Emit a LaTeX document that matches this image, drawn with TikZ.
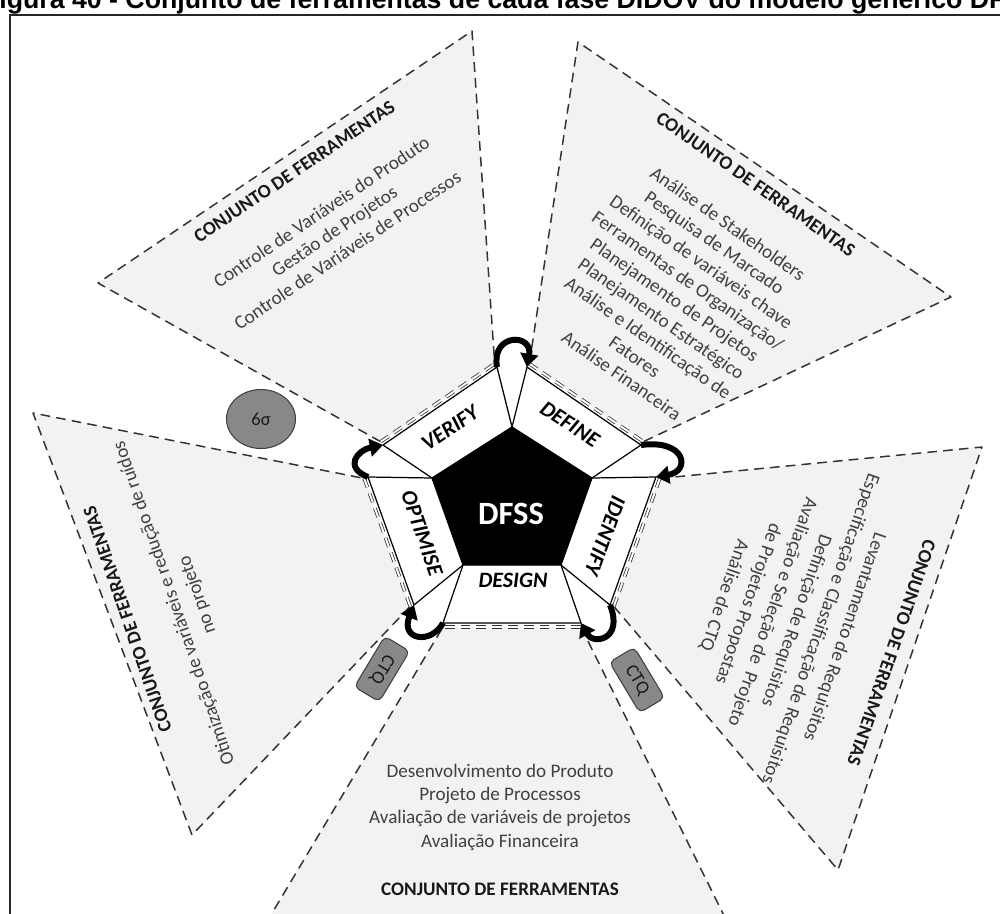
\documentclass[tikz,border=0pt]{standalone}
\usepackage{fontspec}
\setmainfont{Carlito}
\newfontfamily\headfont{Liberation Sans}
\usetikzlibrary{arrows.meta,shapes.geometric}

\newcommand{\toolhead}{{\bfseries\color{black!90}CONJUNTO DE FERRAMENTAS}}

\begin{document}
\begin{tikzpicture}[x=0.02cm, y=-0.02cm,
    fanline/.style={draw=black!80, line width=0.85pt, dash pattern=on 5.5pt off 3.5pt, line join=round},
    fanedge/.style={draw=black!80, line width=0.45pt, double=white, double distance=1.1pt, dash pattern=on 5.5pt off 3.5pt},
    phase/.style={fill=white, draw=black, line width=0.7pt},
    phaselabel/.style={font=\fontsize{12.5pt}{14pt}\selectfont\bfseries\itshape, inner sep=0pt},
    tools/.style={align=center, text=black!75, inner sep=0pt, font=\fontsize{10.9pt}{13.2pt}\selectfont},
    turn/.style={draw=black, line width=3.4pt, -{Triangle[length=7.5pt,width=10pt]}},
    badge/.style={fill=badgegray, draw=black!75, line width=0.6pt, font=\fontsize{10.5pt}{12pt}\selectfont, text=black!90}]

  % Colours
  \definecolor{fangray}{RGB}{242,242,242}
  \definecolor{badgegray}{RGB}{136,136,136}

  \useasboundingbox (0,0) rectangle (1000,913);

  % Caption line and frame
  \node[anchor=base west, inner sep=0pt, font=\fontsize{15.2pt}{18pt}\headfont\bfseries] (title) at (-1,8)
    {igura 40 - Conjunto de ferramentas de cada fase DIDOV do modelo genérico DF};
  \draw[line width=1.1pt, black!85] (10,1000) -- (10,15) -- (1010,15);

  % Pentagon corners
  \coordinate (p1) at (512,427);
  \coordinate (p2) at (592,478);
  \coordinate (p3) at (561,565);
  \coordinate (p4) at (463,565);
  \coordinate (p5) at (432,478);

  % Outer corners of the phase blocks
  \coordinate (v1) at (383,445); \coordinate (v2) at (497,367);
  \coordinate (d1) at (527,367); \coordinate (d2) at (641,445);
  \coordinate (i1) at (656,477); \coordinate (i2) at (610,605);
  \coordinate (g1) at (581,623); \coordinate (g2) at (443,623);
  \coordinate (o1) at (414,605); \coordinate (o2) at (368,477);

  % Tool fans (fill, outer dashed sides, double dashed inner side)
  % verify fan
  \fill[fangray] (380.7,441.7) -- (98,283) -- (472,31) -- (494.7,363.7) -- cycle;
  \draw[fanline] (380.7,441.7) -- (98,283) -- (472,31) -- (494.7,363.7);
  \draw[fanedge] (380.7,441.7) -- (494.7,363.7);
  % define fan
  \fill[fangray] (529.3,363.7) -- (578,42) -- (951,297) -- (643.3,441.7) -- cycle;
  \draw[fanline] (529.3,363.7) -- (578,42) -- (951,297) -- (643.3,441.7);
  \draw[fanedge] (529.3,363.7) -- (643.3,441.7);
  % identify fan
  \fill[fangray] (659.8,478.4) -- (982,447) -- (838,870) -- (613.8,606.4) -- cycle;
  \draw[fanline] (659.8,478.4) -- (982,447) -- (838,870) -- (613.8,606.4);
  \draw[fanedge] (659.8,478.4) -- (613.8,606.4);
  % design fan
  \fill[fangray] (581,627) -- (746,960) -- (244,960) -- (443,627) -- cycle;
  \draw[fanline] (581,627) -- (746,960) -- (244,960) -- (443,627);
  \draw[fanedge] (581,627) -- (443,627);
  % optimise fan
  \fill[fangray] (410.2,606.4) -- (192,835) -- (33,413) -- (364.2,478.4) -- cycle;
  \draw[fanline] (410.2,606.4) -- (192,835) -- (33,413) -- (364.2,478.4);
  \draw[fanedge] (410.2,606.4) -- (364.2,478.4);

  % Phase blocks around the core
  \foreach \a/\b/\c/\d in {p5/p1/v2/v1, p1/p2/d2/d1, p2/p3/i2/i1, p3/p4/g2/g1, p4/p5/o2/o1} {
      \draw[phase] (\a) -- (\b) -- (\c) -- (\d) -- cycle;
  }
  \fill[black] (p1) -- (p2) -- (p3) -- (p4) -- (p5) -- cycle;
  \node[text=white, font=\fontsize{18.5pt}{20pt}\selectfont\bfseries] (dfss) at (511,514) {DFSS};

  % Phase names
  \foreach \x/\y/\ang/\name/\lbl in {
      450/428/34/verify/VERIFY,
      570/424/-33/define/DEFINE,
      605/536/-110/identify/IDENTIFY,
      513/580/0/design/DESIGN,
      422/533/-71/optimise/OPTIMISE
  } {
      \node[phaselabel, rotate=\ang] (\name) at (\x,\y) {\lbl};
  }

  % Tool lists
  \node[tools, rotate=34] (toolsV) at (321,211)
    {\toolhead\\[14.5pt] Controle de Variáveis do Produto\\ Gestão de Projetos\\ Controle de Variáveis de Processos};
  \node[tools, rotate=-35] (toolsD) at (688.5,280)
    {\toolhead\\[14.5pt] Análise de Stakeholders\\ Pesquisa de Marcado\\ Definição de variáveis chave\\
     Ferramentas de Organização/\\ Planejamento de Projetos\\ Planejamento Estratégico\\
     Análise e Identificação de\\ Fatores\\ Análise Financeira};
  \node[tools, rotate=-109, font=\fontsize{10.9pt}{14.5pt}\selectfont] (toolsI) at (807,624)
    {\toolhead\\[13.3pt] Levantamento de Requisitos\\ Especificação e Classificação de Requisitos\\
     Definição de Requisitos\\ Avaliação e Seleção de\ \ Projeto\\ de Projetos Propostas\\ Análise de CTQ};
  \node[tools] (toolsG) at (500,830)
    {Desenvolvimento do Produto\\ Projeto de Processos\\ Avaliação de variáveis de projetos\\
     Avaliação Financeira\\[14.5pt] \toolhead};
  \node[tools, rotate=109, font=\fontsize{10.9pt}{14pt}\selectfont] (toolsO) at (163.5,606.5)
    {\toolhead\\[13.5pt] Otimização de variáveis e redução de ruídos\\ no projeto};

  % Cycle arrows between the blocks
  \draw[turn] (v2) .. controls +(-6,-34) and +(6,-34) .. (d1);
  \draw[turn] (d2) .. controls +(45,-6) and +(35,-6) .. (i1);
  \draw[turn] (i2) .. controls +(14,35) and +(12,22) .. (g1);
  \draw[turn] (g2) .. controls +(-12,22) and +(-14,35) .. (o1);
  \draw[turn] (o2) .. controls +(-25,-10) and +(-25,5) .. (v1);

  % Badges
  \node[badge, ellipse, minimum width=1.38cm, minimum height=1.18cm, inner sep=0pt] (sigma) at (261,419) {6σ};
  \node[badge, rounded corners=3pt, minimum width=1.18cm, minimum height=0.58cm, inner sep=0pt, rotate=-121] (ctqL) at (382,669) {CTQ};
  \node[badge, rounded corners=3pt, minimum width=1.18cm, minimum height=0.58cm, inner sep=0pt, rotate=-59] (ctqR) at (637,680) {CTQ};

\end{tikzpicture}
\end{document}
